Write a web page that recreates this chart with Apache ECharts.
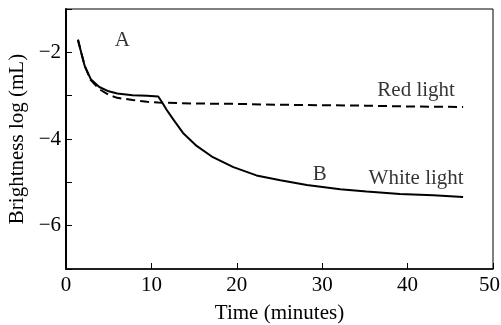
<!DOCTYPE html>
<html>
<head>
<meta charset="utf-8">
<script src="https://cdn.jsdelivr.net/npm/echarts@6/dist/echarts.min.js"></script>
<style>html,body{margin:0;padding:0;background:#fff}#c{width:501px;height:325px}</style>
</head>
<body>
<div id="c"></div>
<script>
var whiteTime = [1.4, 1.8, 2.2, 2.9, 3.9, 5.0, 6.0, 7.8, 9.5, 10.8, 11.3, 11.8, 12.6, 13.7, 15.3, 17.2, 19.6, 22.3, 25.1, 28.2, 32.1, 35.2, 39.1, 43.0, 46.5];
var whiteLog  = [-1.71, -2.02, -2.32, -2.62, -2.80, -2.90, -2.95, -2.99, -3.00, -3.02, -3.17, -3.33, -3.56, -3.86, -4.16, -4.42, -4.65, -4.84, -4.95, -5.06, -5.16, -5.21, -5.27, -5.30, -5.34];
var redTime = [1.4, 1.8, 2.2, 2.9, 3.9, 5.0, 6.0, 7.8, 9.5, 10.8, 15, 20, 25, 30, 35, 40, 46.5];
var redLog  = [-1.71, -2.02, -2.32, -2.64, -2.85, -2.98, -3.05, -3.10, -3.14, -3.16, -3.18, -3.19, -3.21, -3.22, -3.23, -3.25, -3.26];
var annTexts = ['A', 'B', 'Red light', 'White light'];
var annTime = [6.6, 29.7, 41.0, 41.0];
var annLog = [-1.72, -4.82, -2.88, -4.91];
var xTicks = [0, 10, 20, 30, 40, 50];
var yLabelled = [-2, -4, -6];

function pairs(a, b) { return a.map(function (v, i) { return [v, b[i]]; }); }

var font = 'Liberation Serif';
var fs = 21;
var chart = echarts.init(document.getElementById('c'), null, {renderer: 'canvas'});
chart.setOption({
  animation: false,
  backgroundColor: '#fff',
  grid: {left: 66, right: 8, top: 9, bottom: 56, show: true, borderColor: '#000', borderWidth: 1,
    containLabel: false, outerBoundsMode: 'none'},
  xAxis: {
    type: 'value', min: 0, max: 50, interval: 10,
    name: 'Time (minutes)', nameLocation: 'middle', nameGap: 34,
    nameTextStyle: {fontFamily: font, fontSize: fs, color: '#000'},
    axisLine: {lineStyle: {color: '#000', width: 1.5}},
    axisTick: {inside: true, length: 6, lineStyle: {color: '#000'}},
    axisLabel: {fontFamily: font, fontSize: fs, color: '#000', margin: 6,
      formatter: function (v) {
        if (xTicks.indexOf(v) < 0) return '';
        return v === 50 ? '{r|' + v + '}' : String(v);
      },
      rich: {r: {fontFamily: font, fontSize: fs, color: '#000', padding: [0, 7, 0, 0]}}},
    splitLine: {show: false}
  },
  yAxis: {
    type: 'value', min: -7, max: -1, interval: 1,
    name: 'Brightness log (mL)', nameLocation: 'middle', nameGap: 38,
    nameTextStyle: {fontFamily: font, fontSize: fs, color: '#000'},
    axisLine: {lineStyle: {color: '#000', width: 2}},
    axisTick: {inside: true, length: 6, lineStyle: {color: '#000'}},
    axisLabel: {fontFamily: font, fontSize: fs, color: '#000', margin: 5,
      formatter: function (v) { return yLabelled.indexOf(v) >= 0 ? '\u2212' + Math.abs(v) : ''; }},
    splitLine: {show: false}
  },
  series: [
    {type: 'line', name: 'White light', data: pairs(whiteTime, whiteLog), showSymbol: false, smooth: false,
      lineStyle: {color: '#000', width: 2}},
    {type: 'line', name: 'Red light', data: pairs(redTime, redLog), showSymbol: false, smooth: false,
      lineStyle: {color: '#000', width: 2, type: [9, 5]}},
    {type: 'scatter', symbolSize: 0, silent: true,
      data: annTexts.map(function (t, i) { return {name: t, value: [annTime[i], annLog[i]]}; }),
      label: {show: true, position: 'inside', formatter: '{b}', fontFamily: font, fontSize: fs, color: '#000'}}
  ]
});
</script>
</body>
</html>
